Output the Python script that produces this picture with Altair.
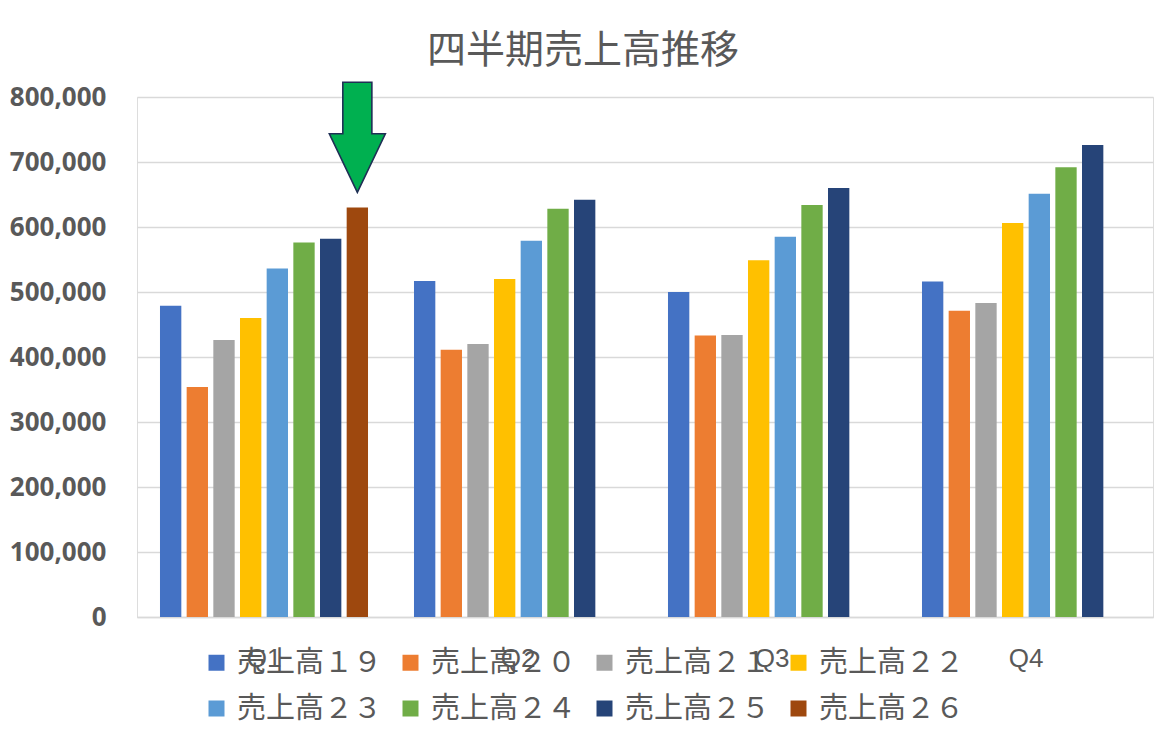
import altair as alt
import pandas as pd

quarters = ["Q1", "Q2", "Q3", "Q4"]
series = ["売上高１９", "売上高２０", "売上高２１", "売上高２２",
          "売上高２３", "売上高２４", "売上高２５", "売上高２６"]
colors = ["#4472C4", "#ED7D31", "#A5A5A5", "#FFC000",
          "#5B9BD5", "#70AD47", "#264478", "#9E480E"]

s19 = [479000, 517000, 500000, 516000]
s20 = [354000, 411000, 433000, 471000]
s21 = [426000, 420000, 434000, 483000]
s22 = [460000, 520000, 549000, 606000]
s23 = [536000, 579000, 585000, 651000]
s24 = [576000, 628000, 634000, 692000]
s25 = [582000, 642000, 660000, 726000]
s26 = [630000]  # Q1 only

all_values = [s19, s20, s21, s22, s23, s24, s25, s26]

rows = []
for name, vals in zip(series, all_values):
    for q, v in zip(quarters, vals):
        rows.append({"quarter": q, "series": name, "value": v})
df = pd.DataFrame(rows)

# annotation arrow above the 売上高２６ bar in Q1
arrow_df = pd.DataFrame([{"quarter": "Q1", "series": "売上高２６", "value": 738000}])

CJK = "Noto Sans CJK JP"
GRAY = "#595959"

x_enc = alt.X("quarter:N", sort=quarters,
              scale=alt.Scale(paddingInner=0.16, paddingOuter=0.08),
              axis=alt.Axis(title=None, labelAngle=0, ticks=False, tickSize=0,
                            labelPadding=28, labelFontSize=26, labelFont="Liberation Sans",
                            labelColor=GRAY, domainColor="#D9D9D9", domainWidth=1.3,
                            grid=False))
xo_enc = alt.XOffset("series:N", sort=series,
                     scale=alt.Scale(domain=series, paddingInner=0.2, paddingOuter=0.1))

bars = alt.Chart(df).mark_bar().encode(
    x=x_enc,
    xOffset=xo_enc,
    y=alt.Y("value:Q",
            scale=alt.Scale(domain=[0, 800000]),
            axis=alt.Axis(title=None, values=list(range(0, 800001, 100000)), format=",d",
                          domain=False, ticks=False, labelPadding=31,
                          labelFontSize=26, labelFont="Noto Sans", labelFontWeight="bold",
                          labelColor=GRAY, gridColor="#D9D9D9", gridWidth=1.3)),
    color=alt.Color("series:N", sort=series,
                    scale=alt.Scale(domain=series, range=colors),
                    legend=alt.Legend(title=None, orient="none", legendX=65, legendY=551,
                                      direction="horizontal", columns=4,
                                      symbolType="square", symbolSize=256,
                                      symbolStrokeWidth=0, labelFontSize=29,
                                      labelFont=CJK, labelColor=GRAY, labelOffset=6,
                                      columnPadding=13, rowPadding=16, labelLimit=400)),
)

arrow_path = ("M -0.264 -1 L 0.264 -1 L 0.264 -0.064 L 0.509 -0.064 L 0 1 "
              "L -0.509 -0.064 L -0.264 -0.064 Z")
arrow = alt.Chart(arrow_df).mark_point(
    shape=arrow_path, size=12100, filled=True, fill="#00B050", fillOpacity=1,
    stroke="#1F2F55", strokeWidth=1.6, opacity=1
).encode(
    x=alt.X("quarter:N", sort=quarters),
    xOffset=alt.XOffset("series:N", sort=series),
    y=alt.Y("value:Q"),
)

chart = alt.layer(bars, arrow).properties(
    width=1016, height=520,
    title=alt.TitleParams("四半期売上高推移", font=CJK, fontSize=39, fontWeight="normal",
                          color=GRAY, anchor="middle", dx=-62, offset=8),
    autosize=alt.AutoSizeParams(type="none"),
    padding={"left": 129, "top": 89, "right": 5, "bottom": 118},
).configure_view(stroke=None).configure(background="white")

chart.save("out.html", embed_options={"renderer": "svg", "actions": False})
